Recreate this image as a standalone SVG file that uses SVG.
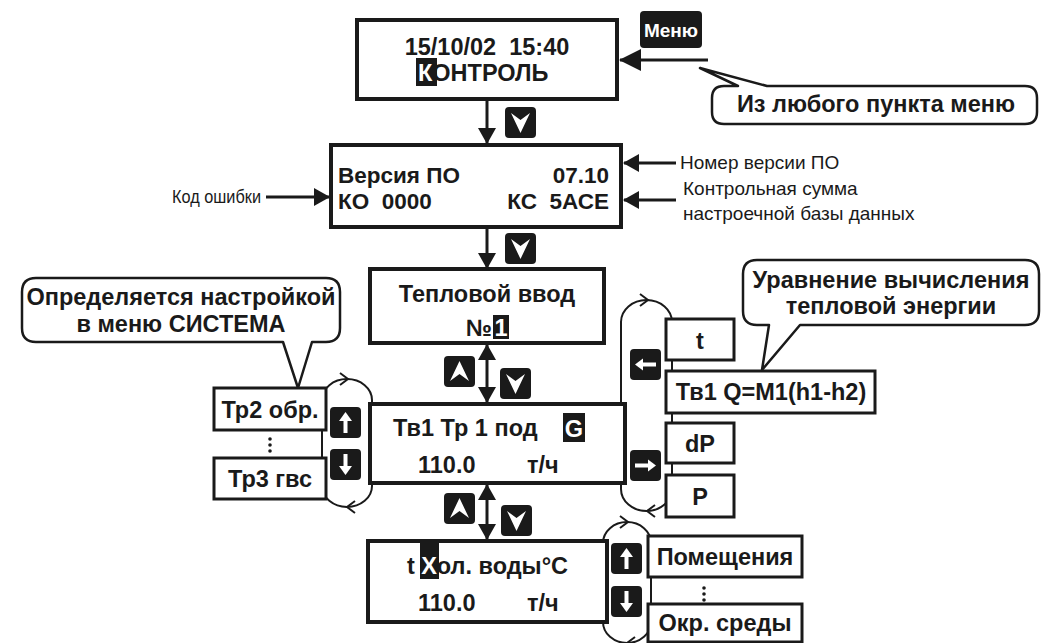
<svg xmlns="http://www.w3.org/2000/svg" xmlns:xlink="http://www.w3.org/1999/xlink" width="1042" height="643" viewBox="0 0 1042 643">
<style>
  .lcd { fill: #fff; stroke: #1a1a1a; stroke-width: 4; }
  .box { fill: #fff; stroke: #1a1a1a; stroke-width: 3; }
  .call { fill: #fff; stroke: #1a1a1a; stroke-width: 2.5; stroke-linejoin: round; }
  .b { font-family: "Liberation Sans", Arial, sans-serif; font-weight: bold; font-size: 23.5px; fill: #1a1a1a; }
  .b2 { font-size: 22.5px; }
  .kt { font-size: 19px; }
  .n { font-family: "Liberation Sans", Arial, sans-serif; font-size: 19px; fill: #1a1a1a; }
  .w { fill: #fff; }
  .hl { fill: #1a1a1a; }
  .m { text-anchor: middle; }
  .e { text-anchor: end; }
  .arr { fill: none; stroke: #1a1a1a; stroke-width: 3; }
  .loop { fill: none; stroke: #1a1a1a; stroke-width: 2; }
  .key { fill: #1a1a1a; }
</style>
<defs>
  <marker id="ah" markerUnits="userSpaceOnUse" markerWidth="16" markerHeight="18" refX="15" refY="9" orient="auto-start-reverse" viewBox="0 0 16 18">
    <path d="M0,0 L16,9 L0,18 Z" fill="#1a1a1a"/>
  </marker>
  <marker id="ahL" markerUnits="userSpaceOnUse" markerWidth="22" markerHeight="22" refX="21" refY="11" orient="auto" viewBox="0 0 22 22">
    <path d="M0,0 L22,11 L0,22 Z" fill="#1a1a1a"/>
  </marker>
  <g id="kDown"><rect width="31" height="31" rx="4" class="key"/><path d="M6,6 L15.5,13 L25,6 L15.5,26 Z" fill="#fff"/></g>
  <g id="kUp"><rect width="31" height="31" rx="4" class="key"/><path d="M6,25 L15.5,18 L25,25 L15.5,5 Z" fill="#fff"/></g>
  <g id="kArrUp"><rect width="31" height="31" rx="4" class="key"/><path d="M9,14 L15.5,5 L22,14 Z" fill="#fff"/><rect x="13.5" y="13" width="4" height="13" fill="#fff"/></g>
  <g id="kArrDown"><rect width="31" height="31" rx="4" class="key"/><path d="M9,17 L15.5,26 L22,17 Z" fill="#fff"/><rect x="13.5" y="5" width="4" height="13" fill="#fff"/></g>
  <g id="kArrLeft"><rect width="31" height="31" rx="4" class="key"/><path d="M13,9.5 L5,15.5 L13,21.5 Z" fill="#fff"/><rect x="12" y="13.5" width="14" height="4" fill="#fff"/></g>
  <g id="kArrRight"><rect width="31" height="31" rx="4" class="key"/><path d="M18,9.5 L26,15.5 L18,21.5 Z" fill="#fff"/><rect x="5" y="13.5" width="14" height="4" fill="#fff"/></g>
</defs>
<rect width="1042" height="643" fill="#fff"/>

<g id="connectors">
  <path class="arr" d="M487,99 L487,143" marker-end="url(#ah)"/>
  <path class="arr" d="M487,227 L487,268" marker-end="url(#ah)"/>
  <path class="arr" d="M487,345 L487,402" marker-start="url(#ah)" marker-end="url(#ah)"/>
  <path class="arr" d="M487,485 L487,539" marker-start="url(#ah)" marker-end="url(#ah)"/>
  <path class="arr" d="M708,60 L620,60" stroke-width="4" marker-end="url(#ahL)"/>
  <path class="arr" d="M266,197 L329,197" marker-end="url(#ah)"/>
  <path class="arr" d="M676,163 L624,163" marker-end="url(#ah)"/>
  <path class="arr" d="M676,200 L624,200" marker-end="url(#ah)"/>
  <path class="loop" d="M322,486 L322,400 A25,21 0 0 1 372,400 L372,486 A25,21 0 0 1 322,486"/>
  <path class="loop" d="M340,373 L348,379 L340,385"/>
  <path class="loop" d="M355,501 L347,507 L355,513"/>
  <path class="loop" d="M621,489 L621,322 A25.5,22 0 0 1 672,322 L672,489 A25.5,22 0 0 1 621,489"/>
  <path class="loop" d="M640,294 L648,300 L640,306"/>
  <path class="loop" d="M655,505 L647,511 L655,517"/>
  <path class="loop" d="M603,622 L603,543 A24,21 0 0 1 651,543 L651,622 A24,21 0 0 1 603,622"/>
  <path class="loop" d="M620,516 L628,522 L620,528"/>
  <path class="loop" d="M635,637 L627,643 L635,649"/>
</g>

<g id="node-kontrol">
  <rect class="lcd" x="357" y="20" width="260" height="79"/>
  <text class="b m" x="487" y="55" xml:space="preserve">15/10/02  15:40</text>
  <rect class="hl" x="416" y="58" width="21" height="28"/>
  <text class="b" x="418" y="81"><tspan class="w">К</tspan>ОНТРОЛЬ</text>
</g>

<g id="node-menu-key">
  <rect x="640" y="11" width="62" height="37" rx="4" class="key"/>
  <text class="b kt m w" x="671" y="37">Меню</text>
</g>

<g id="callout-menu">
  <path class="call" d="M724,86 L738,86 L700,68 L767,86 L1025,86 Q1037,86 1037,98 L1037,112 Q1037,124 1025,124 L724,124 Q712,124 712,112 L712,98 Q712,86 724,86 Z"/>
  <text class="b m" x="876" y="112">Из любого пункта меню</text>
</g>

<g id="key-down-1"><use xlink:href="#kDown" x="505" y="107"/></g>

<g id="node-version">
  <rect class="lcd" x="331" y="145" width="290" height="82"/>
  <text class="b b2" x="338" y="183">Версия ПО</text>
  <text class="b b2 e" x="609" y="183">07.10</text>
  <text class="b b2" x="338" y="209" xml:space="preserve">КО  0000</text>
  <text class="b b2 e" x="609" y="209" xml:space="preserve">КС  5АСЕ</text>
</g>

<g id="label-error">
  <text class="n" x="172" y="203" textLength="89" lengthAdjust="spacingAndGlyphs">Код ошибки</text>
</g>
<g id="label-version">
  <text class="n" x="680" y="169">Номер версии ПО</text>
</g>
<g id="label-checksum">
  <text class="n" x="683" y="195">Контрольная сумма</text>
  <text class="n" x="683" y="220">настроечной базы данных</text>
</g>

<g id="key-down-2"><use xlink:href="#kDown" x="505" y="233"/></g>

<g id="node-heat-input">
  <rect class="lcd" x="370" y="269" width="234" height="74"/>
  <text class="b m" x="487" y="302">Тепловой ввод</text>
  <text class="b" x="466" y="336">№</text>
  <rect class="hl" x="493" y="315" width="16" height="24"/>
  <text class="b m w" x="501" y="336">1</text>
</g>

<g id="keys-3">
  <use xlink:href="#kUp" x="444" y="356"/>
  <use xlink:href="#kDown" x="500" y="368"/>
</g>

<g id="callout-system">
  <path class="call" d="M36,278 L326,278 Q340,278 340,292 L340,328 Q340,342 326,342 L312,342 L298,388 L283,342 L36,342 Q22,342 22,328 L22,292 Q22,278 36,278 Z"/>
  <text class="b m" x="181" y="305">Определяется настройкой</text>
  <text class="b m" x="181" y="332">в меню СИСТЕМА</text>
</g>

<g id="node-tr2">
  <rect class="box" x="214" y="388" width="112" height="42"/>
  <text class="b m" x="270" y="418">Тр2 обр.</text>
</g>
<g id="dots-left">
  <circle cx="270" cy="439" r="1.8" fill="#1a1a1a"/>
  <circle cx="270" cy="445" r="1.8" fill="#1a1a1a"/>
  <circle cx="270" cy="451" r="1.8" fill="#1a1a1a"/>
</g>
<g id="node-tr3">
  <rect class="box" x="214" y="458" width="112" height="41"/>
  <text class="b m" x="270" y="487">Тр3 гвс</text>
</g>
<g id="keys-left">
  <use xlink:href="#kArrUp" x="330" y="407"/>
  <use xlink:href="#kArrDown" x="330" y="449"/>
</g>

<g id="node-flow">
  <rect class="lcd" x="370" y="404" width="255" height="79"/>
  <text class="b" x="393" y="436">Тв1 Тр 1 под</text>
  <rect class="hl" x="563" y="413" width="22" height="29"/>
  <text class="b m w" x="574" y="437">G</text>
  <text class="b" x="418" y="473">110.0</text>
  <text class="b" x="527" y="473">т/ч</text>
</g>

<g id="keys-right">
  <use xlink:href="#kArrLeft" x="630" y="349"/>
  <use xlink:href="#kArrRight" x="630" y="450"/>
</g>

<g id="node-t"><rect class="box" x="666" y="319" width="68" height="41"/><text class="b m" x="700" y="349">t</text></g>
<g id="node-equation"><rect class="box" x="666" y="371" width="209" height="42"/><text class="b m" x="771" y="400">Тв1 Q=M1(h1-h2)</text></g>
<g id="node-dp"><rect class="box" x="666" y="423" width="68" height="40"/><text class="b m" x="700" y="452">dP</text></g>
<g id="node-p"><rect class="box" x="666" y="475" width="68" height="42"/><text class="b m" x="700" y="505">P</text></g>

<g id="callout-equation">
  <path class="call" d="M757,260 L1025,260 Q1039,260 1039,274 L1039,311 Q1039,325 1025,325 L800,325 L762,370 L769,325 L757,325 Q743,325 743,311 L743,274 Q743,260 757,260 Z"/>
  <text class="b m" x="891" y="288">Уравнение вычисления</text>
  <text class="b m" x="891" y="314">тепловой энергии</text>
</g>

<g id="keys-5">
  <use xlink:href="#kUp" x="444" y="493"/>
  <use xlink:href="#kDown" x="501" y="505"/>
</g>

<g id="node-cold-water">
  <rect class="lcd" x="368" y="541" width="239" height="81"/>
  <rect class="hl" x="420" y="543" width="19" height="36"/>
  <text class="b" x="407" y="574" xml:space="preserve">t <tspan class="w">Х</tspan>ол. воды°С</text>
  <text class="b" x="418" y="611">110.0</text>
  <text class="b" x="527" y="611">т/ч</text>
</g>

<g id="keys-bottom">
  <use xlink:href="#kArrUp" x="611" y="543"/>
  <use xlink:href="#kArrDown" x="611" y="586"/>
</g>

<g id="node-rooms"><rect class="box" x="648" y="536" width="154" height="41"/><text class="b m" x="725" y="565">Помещения</text></g>
<g id="dots-bottom">
  <circle cx="704" cy="588" r="1.8" fill="#1a1a1a"/>
  <circle cx="704" cy="594" r="1.8" fill="#1a1a1a"/>
  <circle cx="704" cy="600" r="1.8" fill="#1a1a1a"/>
</g>
<g id="node-ambient"><rect class="box" x="648" y="604" width="154" height="38"/><text class="b m" x="725" y="631">Окр. среды</text></g>
</svg>
